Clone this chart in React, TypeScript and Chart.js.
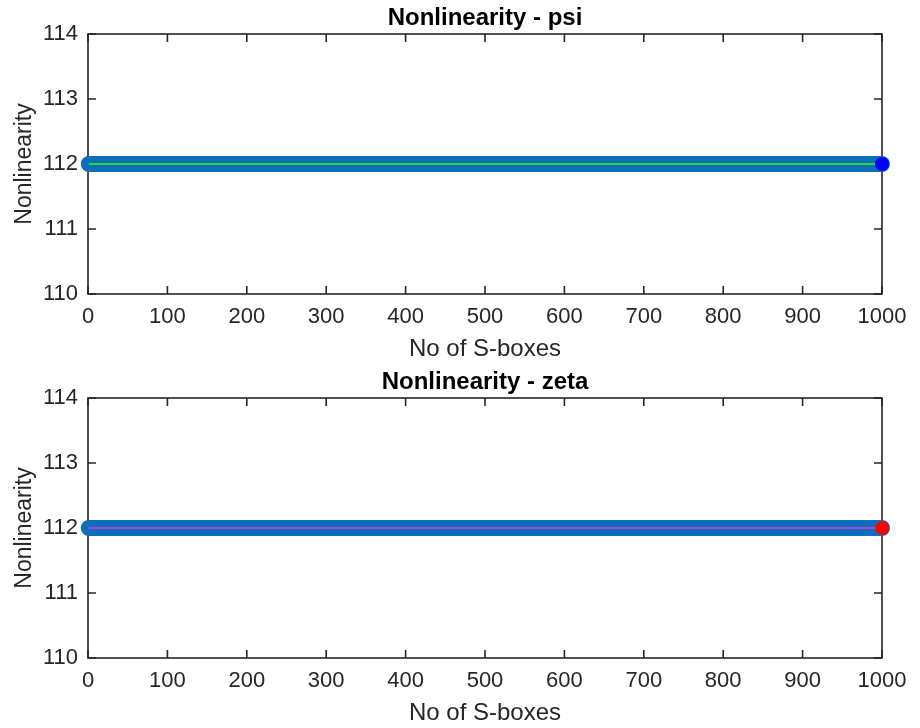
import React, { useEffect, useRef } from "react";
import { Chart, registerables } from "chart.js";

Chart.register(...registerables);

// ---- data ----
const sboxRange = [1, 1000];
const psiValues = [112, 112];
const zetaValues = [112, 112];
const lastSbox = [1000];
const psiLast = [112];
const zetaLast = [112];
const xTickValues = [0, 100, 200, 300, 400, 500, 600, 700, 800, 900, 1000];
const yTickValues = [110, 111, 112, 113, 114];

const FONT = "'Liberation Sans', Arial, Helvetica, sans-serif";
const AXIS_COLOR = "#262626";

const panels = [
  {
    title: "Nonlinearity - psi",
    values: psiValues,
    last: psiLast,
    lineColor: "#22DD22",
    markerColor: "#0000FF",
  },
  {
    title: "Nonlinearity - zeta",
    values: zetaValues,
    last: zetaLast,
    lineColor: "#B040D8",
    markerColor: "#FF0000",
  },
];

const boxPlugin = {
  id: "matlabBox",
  beforeDatasetsDraw(chart: any) {
    const { ctx, chartArea, scales } = chart;
    const { left, right, top, bottom } = chartArea;
    const x = scales.x;
    const y = scales.y;
    ctx.save();
    ctx.strokeStyle = AXIS_COLOR;
    ctx.lineWidth = 1.6;
    ctx.strokeRect(left, top, right - left, bottom - top);
    ctx.beginPath();
    const tl = 8;
    xTickValues.forEach((v) => {
      const px = x.getPixelForValue(v);
      ctx.moveTo(px, bottom);
      ctx.lineTo(px, bottom - tl);
      ctx.moveTo(px, top);
      ctx.lineTo(px, top + tl);
    });
    yTickValues.forEach((v) => {
      const py = y.getPixelForValue(v);
      ctx.moveTo(left, py);
      ctx.lineTo(left + tl, py);
      ctx.moveTo(right, py);
      ctx.lineTo(right - tl, py);
    });
    ctx.stroke();
    ctx.restore();
  },
};

function Panel(props: {
  title: string;
  values: number[];
  last: number[];
  lineColor: string;
  markerColor: string;
}) {
  const ref = useRef<HTMLCanvasElement | null>(null);
  useEffect(() => {
    if (!ref.current) return;
    const pts = sboxRange.map((s, i) => ({ x: s, y: props.values[i] }));
    const lastPts = lastSbox.map((s, i) => ({ x: s, y: props.last[i] }));
    const chart = new Chart(ref.current, {
      type: "line",
      data: {
        datasets: [
          {
            data: lastPts,
            showLine: false,
            pointRadius: 7,
            pointBackgroundColor: props.markerColor,
            pointBorderColor: props.markerColor,
            pointBorderWidth: 0,
            order: 0,
            clip: false as any,
          },
          {
            data: pts,
            borderColor: props.lineColor,
            borderWidth: 2.2,
            pointRadius: 0,
            order: 1,
            clip: false as any,
          },
          {
            data: pts,
            borderColor: "#0D6EBD",
            borderWidth: 16,
            borderCapStyle: "round",
            pointRadius: 0,
            order: 2,
            clip: false as any,
          },
        ],
      },
      options: {
        responsive: false,
        animation: false,
        events: [],
        layout: { padding: { left: 0, right: 38, top: 0, bottom: 0 } },
        plugins: {
          legend: { display: false },
          tooltip: { enabled: false },
          title: {
            display: true,
            text: props.title,
            fullSize: false,
            color: "#000000",
            font: { family: FONT, size: 24, weight: "bold" },
            padding: { top: 4, bottom: 1.2 },
          },
        },
        scales: {
          x: {
            type: "linear",
            min: 0,
            max: 1000,
            afterBuildTicks: (s: any) => {
              s.ticks = xTickValues.map((v) => ({ value: v }));
            },
            afterFit: (s: any) => {
              s.height = 70;
            },
            grid: { display: false, drawTicks: false },
            border: { display: false },
            ticks: {
              color: AXIS_COLOR,
              font: { family: FONT, size: 22 },
              padding: 10,
              maxRotation: 0,
              autoSkip: false,
              callback: (v: any) => String(v),
            },
            title: {
              display: true,
              text: "No of S-boxes",
              color: AXIS_COLOR,
              font: { family: FONT, size: 24 },
              padding: { top: 2, bottom: 0 },
            },
          },
          y: {
            type: "linear",
            min: 110,
            max: 114,
            afterBuildTicks: (s: any) => {
              s.ticks = yTickValues.map((v) => ({ value: v }));
            },
            afterFit: (s: any) => {
              s.width = 88;
            },
            grid: { display: false, drawTicks: false },
            border: { display: false },
            ticks: {
              color: AXIS_COLOR,
              font: { family: FONT, size: 22 },
              padding: 10,
              callback: (v: any) => String(v),
            },
            title: {
              display: true,
              text: "Nonlinearity",
              color: AXIS_COLOR,
              font: { family: FONT, size: 23 },
              padding: { top: 11, bottom: 0 },
            },
          },
        },
      },
      plugins: [boxPlugin],
    } as any);
    return () => chart.destroy();
  }, []);
  return (
    <canvas
      ref={ref}
      width={920}
      height={364}
      style={{ display: "block", width: 920, height: 364 }}
    />
  );
}

export default function App() {
  return (
    <div
      style={{
        position: "absolute",
        left: 0,
        top: 0,
        width: 920,
        height: 728,
        background: "#ffffff",
      }}
    >
      {panels.map((p) => (
        <Panel key={p.title} {...p} />
      ))}
    </div>
  );
}
